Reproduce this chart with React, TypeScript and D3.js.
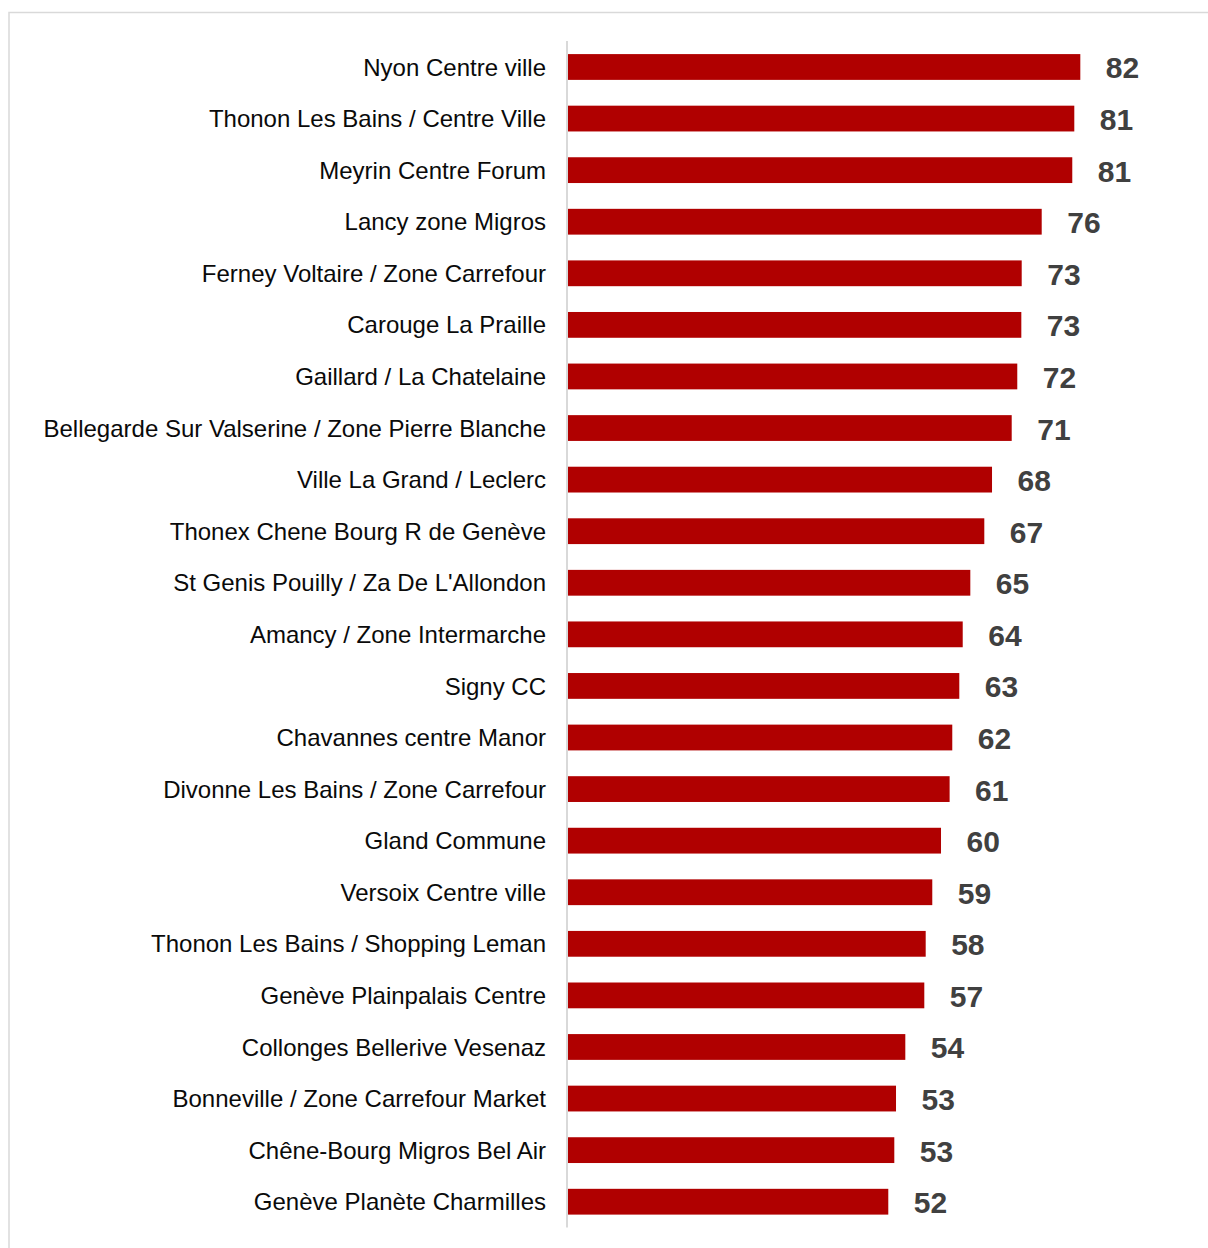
import React from "react";
import * as d3 from "d3";

const categories: string[] = [
  "Nyon Centre ville",
  "Thonon Les Bains / Centre Ville",
  "Meyrin Centre Forum",
  "Lancy zone Migros",
  "Ferney Voltaire / Zone Carrefour",
  "Carouge La Praille",
  "Gaillard / La Chatelaine",
  "Bellegarde Sur Valserine / Zone Pierre Blanche",
  "Ville La Grand / Leclerc",
  "Thonex Chene Bourg R de Genève",
  "St Genis Pouilly / Za De L'Allondon",
  "Amancy / Zone Intermarche",
  "Signy CC",
  "Chavannes centre Manor",
  "Divonne Les Bains / Zone Carrefour",
  "Gland Commune",
  "Versoix Centre ville",
  "Thonon Les Bains / Shopping Leman",
  "Genève Plainpalais Centre",
  "Collonges Bellerive Vesenaz",
  "Bonneville / Zone Carrefour Market",
  "Chêne-Bourg Migros Bel Air",
  "Genève Planète Charmilles",
];

const values: number[] = [
  82.1, 81.15, 80.83, 76.0, 72.84, 72.78, 72.14, 71.26, 68.15, 66.93, 64.72,
  63.52, 62.98, 61.87, 61.45, 60.09, 58.71, 57.67, 57.45, 54.45, 52.98, 52.71,
  51.76,
];

export default function App() {
  const W = 1208;
  const H = 1248;
  const axisX = 567;
  const x = d3.scaleLinear().domain([0, 100]).range([560.7, 560.7 + 632.9]);
  const y = d3
    .scaleBand<string>()
    .domain(categories)
    .range([41.2, 1227.5])
    .paddingInner(0.5)
    .paddingOuter(0.25);
  const bw = y.bandwidth();
  const font = "'Liberation Sans', Arial, sans-serif";

  return (
    <svg
      width={W}
      height={H}
      style={{ position: "absolute", left: 0, top: 0, background: "#fff" }}
    >
      <rect x={0} y={0} width={W} height={H} fill="#fff" />
      <rect
        x={9}
        y={12.5}
        width={1300}
        height={1300}
        fill="none"
        stroke="#d9d9d9"
        strokeWidth={1.5}
      />
      {categories.map((c, i) => {
        const v = values[i];
        const cy = (y(c) as number) + bw / 2;
        const x0 = axisX + 1;
        const x1 = x(v);
        return (
          <g key={c}>
            <rect x={x0} y={y(c)} width={x1 - x0} height={bw} fill="#b00000" />
            <text
              x={546}
              y={cy + 8.6}
              textAnchor="end"
              fontFamily={font}
              fontSize={24}
              fill="#0a0a0a"
            >
              {c}
            </text>
            <text
              x={x1 + 25.5}
              y={cy + 11.5}
              fontFamily={font}
              fontSize={30}
              fontWeight="bold"
              fill="#404040"
            >
              {Math.round(v)}
            </text>
          </g>
        );
      })}
      <line
        x1={axisX}
        x2={axisX}
        y1={41}
        y2={1227.5}
        stroke="#d9d9d9"
        strokeWidth={2}
      />
    </svg>
  );
}
